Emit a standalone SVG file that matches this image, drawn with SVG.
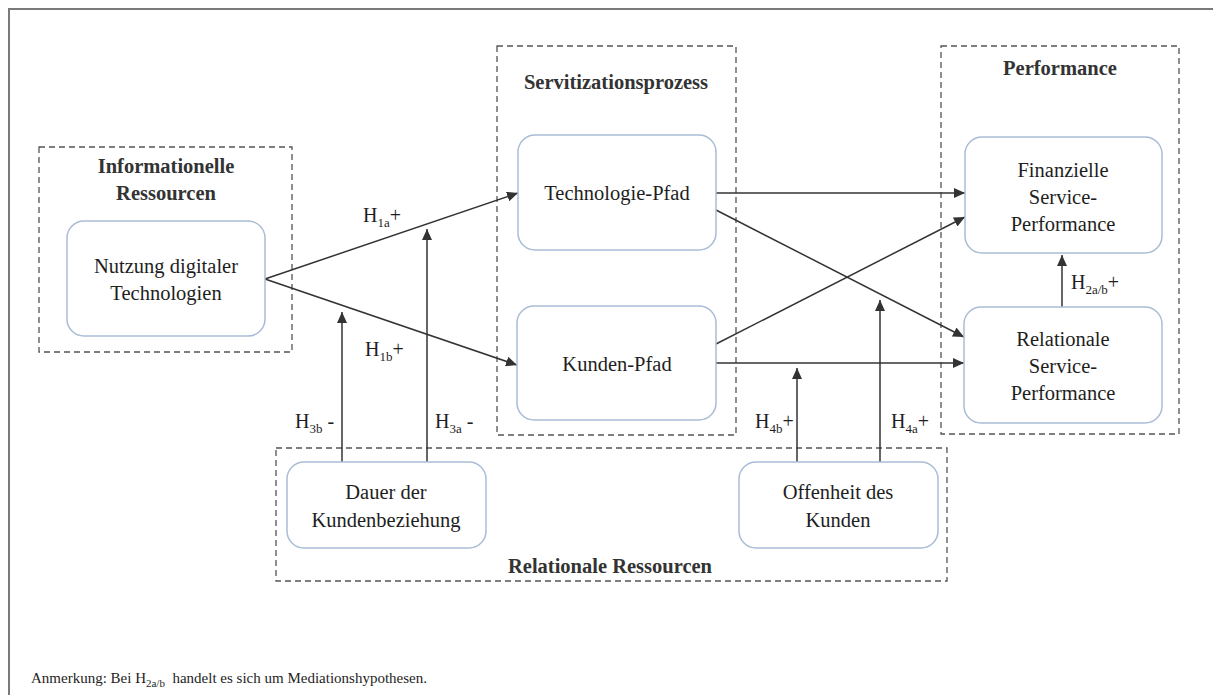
<svg xmlns="http://www.w3.org/2000/svg" width="1213" height="695" viewBox="0 0 1213 695">
  <style>
    .frame { fill: none; stroke: #7a7a7a; stroke-width: 2; }
    .group { fill: none; stroke: #555; stroke-width: 1.3; stroke-dasharray: 6 4; }
    .node { fill: #fff; stroke: #a9bdd6; stroke-width: 1.5; }
    .title { font-family: "Liberation Serif", "Times New Roman", serif; font-size: 20.5px; font-weight: bold; fill: #333; text-anchor: middle; }
    .label { font-family: "Liberation Serif", "Times New Roman", serif; font-size: 20.5px; fill: #1e1e1e; text-anchor: middle; }
    .hyp { font-family: "Liberation Serif", "Times New Roman", serif; font-size: 20px; fill: #1e1e1e; }
    .sub { font-size: 13px; }
    .note { font-family: "Liberation Serif", "Times New Roman", serif; font-size: 15px; fill: #1e1e1e; white-space: pre; }
    .edge { fill: none; stroke: #333; stroke-width: 1.5; marker-end: url(#arrow); }
  </style>
  <defs>
    <marker id="arrow" markerUnits="userSpaceOnUse" markerWidth="12" markerHeight="10" refX="11" refY="5" orient="auto">
      <path d="M0,0 L11,5 L0,10 z" fill="#333"/>
    </marker>
  </defs>

  <rect width="1213" height="695" fill="#fff"/>
  <!-- outer frame, open to the right and bottom -->
  <path class="frame" d="M9,695 L9,9 L1213,9"/>

  <!-- dashed groupings -->
  <g id="group-informationelle">
    <rect class="group" x="39" y="147" width="253" height="205"/>
    <text class="title" x="166" y="173">Informationelle</text>
    <text class="title" x="166" y="200">Ressourcen</text>
  </g>
  <g id="group-servitization">
    <rect class="group" x="497" y="46" width="239" height="389"/>
    <text class="title" x="616" y="89">Servitizationsprozess</text>
  </g>
  <g id="group-performance">
    <rect class="group" x="941" y="46" width="238" height="388"/>
    <text class="title" x="1060" y="75">Performance</text>
  </g>
  <g id="group-relational">
    <rect class="group" x="276" y="448" width="671" height="133"/>
    <text class="title" x="610" y="573">Relationale Ressourcen</text>
  </g>

  <!-- connectors -->
  <g id="connectors">
    <path class="edge" d="M265,279 L518,193"/>
    <path class="edge" d="M265,279 L517,365"/>
    <path class="edge" d="M716,193 L965,193"/>
    <path class="edge" d="M716,210 L964,337"/>
    <path class="edge" d="M716,344 L965,217"/>
    <path class="edge" d="M716,363 L964,363"/>
    <path class="edge" d="M1062,307 L1062,255"/>
    <path class="edge" d="M342,462 L342,312"/>
    <path class="edge" d="M427,462 L427,229"/>
    <path class="edge" d="M797,462 L797,368"/>
    <path class="edge" d="M880,462 L880,300"/>
  </g>

  <!-- nodes -->
  <g id="node-nutzung">
    <rect class="node" x="67" y="221" width="198" height="115" rx="17"/>
    <text class="label" x="166" y="273">Nutzung digitaler</text>
    <text class="label" x="166" y="300">Technologien</text>
  </g>
  <g id="node-technologie">
    <rect class="node" x="518" y="135" width="198" height="115" rx="17"/>
    <text class="label" x="617" y="200">Technologie-Pfad</text>
  </g>
  <g id="node-kunden">
    <rect class="node" x="517" y="306" width="199" height="114" rx="17"/>
    <text class="label" x="617" y="371">Kunden-Pfad</text>
  </g>
  <g id="node-finanziell">
    <rect class="node" x="965" y="137" width="197" height="116" rx="17"/>
    <text class="label" x="1063" y="177">Finanzielle</text>
    <text class="label" x="1063" y="204">Service-</text>
    <text class="label" x="1063" y="231">Performance</text>
  </g>
  <g id="node-relational">
    <rect class="node" x="964" y="307" width="198" height="116" rx="17"/>
    <text class="label" x="1063" y="346">Relationale</text>
    <text class="label" x="1063" y="373">Service-</text>
    <text class="label" x="1063" y="400">Performance</text>
  </g>
  <g id="node-dauer">
    <rect class="node" x="287" y="462" width="199" height="86" rx="17"/>
    <text class="label" x="386" y="499">Dauer der</text>
    <text class="label" x="386" y="527">Kundenbeziehung</text>
  </g>
  <g id="node-offenheit">
    <rect class="node" x="739" y="462" width="199" height="86" rx="17"/>
    <text class="label" x="838" y="499">Offenheit des</text>
    <text class="label" x="838" y="527">Kunden</text>
  </g>

  <!-- hypothesis labels -->
  <g id="hypotheses">
    <text class="hyp" x="363" y="222">H<tspan class="sub" dy="5">1a</tspan><tspan dy="-5">+</tspan></text>
    <text class="hyp" x="365" y="356">H<tspan class="sub" dy="5">1b</tspan><tspan dy="-5">+</tspan></text>
    <text class="hyp" x="1071" y="289">H<tspan class="sub" dy="5">2a/b</tspan><tspan dy="-5">+</tspan></text>
    <text class="hyp" x="295" y="428">H<tspan class="sub" dy="5">3b</tspan><tspan dy="-5"> -</tspan></text>
    <text class="hyp" x="435" y="428">H<tspan class="sub" dy="5">3a</tspan><tspan dy="-5"> -</tspan></text>
    <text class="hyp" x="755" y="428">H<tspan class="sub" dy="5">4b</tspan><tspan dy="-5">+</tspan></text>
    <text class="hyp" x="891" y="428">H<tspan class="sub" dy="5">4a</tspan><tspan dy="-5">+</tspan></text>
  </g>

  <!-- footnote -->
  <text id="note" class="note" x="31" y="683">Anmerkung: Bei H<tspan font-size="11" dy="4">2a/b</tspan><tspan dy="-4">  handelt es sich um Mediationshypothesen.</tspan></text>
</svg>
